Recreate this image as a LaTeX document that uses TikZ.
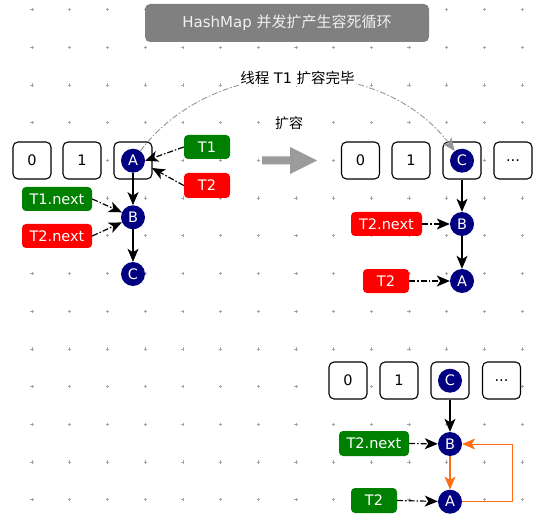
\documentclass[tikz,border=0pt]{standalone}
\usepackage{fontspec}
\setmainfont{DejaVu Sans}
\newfontfamily\cjk{Noto Sans CJK SC}
\usetikzlibrary{arrows.meta}
\definecolor{navyc}{RGB}{0,0,128}
\definecolor{greenc}{RGB}{0,128,0}
\definecolor{redc}{RGB}{255,0,0}
\definecolor{orangec}{RGB}{255,110,20}
\definecolor{titlegray}{RGB}{128,128,128}
\definecolor{dotgray}{RGB}{165,165,165}
\definecolor{arcgray}{RGB}{150,150,150}
\definecolor{bigarrow}{RGB}{155,155,155}
\begin{document}
\begin{tikzpicture}[x=1pt,y=-1pt,
  font=\fontsize{14.5}{17}\selectfont,
  cell/.style={draw=black, line width=1.1pt, fill=white, rounded corners=5pt,
    minimum width=38pt, minimum height=37pt, inner sep=0pt},
  ball/.style={circle, fill=navyc, text=white, minimum size=24pt, inner sep=0pt},
  tag/.style={rounded corners=4pt, text=white, minimum height=24pt, inner sep=0pt},
  gtag/.style={tag, fill=greenc},
  rtag/.style={tag, fill=redc},
  link/.style={-{Stealth[length=13pt,width=11pt,inset=3.5pt]}, line width=1.2pt},
  ptr/.style={link, dash pattern=on 6pt off 2pt on 1.5pt off 2pt},
  arcline/.style={arcgray, line width=0.9pt, dash pattern=on 6pt off 2pt on 1.5pt off 2pt,
    -{Stealth[length=13pt,width=11pt,inset=3.5pt]}},
  dotmark/.style={dotgray, line width=0.6pt}
  ]
\useasboundingbox (0,0) rectangle (551,529);
\fill[white] (0,0) rectangle (551,529);
% grid
\foreach \i in {0,...,13}{
  \foreach \j in {0,...,13}{
    \draw[dotmark] (32+37.7*\i-1.6, 9.6+37.7*\j) -- ++(3.2,0)
                   (32+37.7*\i, 9.6+37.7*\j-1.6) -- ++(0,3.2);
  }
}
% title
\node[fill=titlegray, rounded corners=5pt, text=white!94!black, minimum width=284pt,
  minimum height=38pt, inner sep=0pt, font=\fontsize{15}{18}\selectfont]
  (title) at (287,23) {HashMap {\cjk 并发扩产生容死循环}};

% ---------- left section ----------
\node[cell] (L0) at (32,160.5) {0};
\node[cell] (L1) at (82,160.5) {1};
\node[cell] (L2) at (133,160.5) {};
\node[ball] (A1) at (133,160.7) {A};
\node[ball] (B1) at (133,217.3) {B};
\node[ball] (C1) at (133,274) {C};
\node[gtag, minimum width=46pt] (T1a) at (207,147) {T1};
\node[rtag, minimum width=46pt, minimum height=25pt] (T2a) at (207,185.5) {T2};
\node[gtag, minimum width=70pt] (T1n) at (57,199) {T1.next};
\node[rtag, minimum width=70pt] (T2n) at (57,236) {T2.next};
\coordinate (pA) at (152,168);
\draw[link] (A1) -- (B1);
\draw[link] (B1) -- (C1);
\draw[ptr] (T1a.west) -- (A1.east);
\draw[ptr] (T2a.west) -- (pA);
\draw[ptr] (T1n.east) -- (B1);
\draw[ptr] (T2n.east) -- (B1);

% big arrow
\fill[bigarrow] (262,156.5) -- (290,156.5) -- (290,147) -- (317,160.5)
  -- (290,174) -- (290,164.5) -- (262,164.5) -- cycle;
\node[fill=white, inner sep=1pt, font=\fontsize{14}{16}\selectfont] (kr) at (289,123) {\cjk 扩容};

% ---------- right section ----------
\node[cell] (R0) at (360.5,160.5) {0};
\node[cell] (R1) at (411,160.5) {1};
\node[cell] (R2) at (462,160.5) {};
\node[cell] (R3) at (513,160.5) {...};
\node[ball] (C2) at (462,160.7) {C};
\node[ball] (B2) at (462,224) {B};
\node[ball] (A2) at (462,281) {A};
\node[rtag, minimum width=71pt] (T2nr) at (386.5,224) {T2.next};
\node[rtag, minimum width=46pt] (T2r) at (386,281) {T2};
\draw[link] (R2.south) -- (B2);
\draw[link] (B2) -- (A2);
\draw[ptr] (T2nr.east) -- (B2);
\draw[ptr] (T2r.east) -- (A2);

% arc
\draw[arcline] (A1) to[out=53,in=127]
  node[midway, fill=white, inner sep=1.5pt, text=black, font=\fontsize{14.5}{17}\selectfont] (lbl)
  {{\cjk 线程} T1 {\cjk 扩容完毕}} (C2);

% ---------- bottom section ----------
\node[cell] (D0) at (348,380.5) {0};
\node[cell] (D1) at (399,380.5) {1};
\node[cell] (D2) at (450,380.5) {};
\node[cell] (D3) at (501.5,380.5) {...};
\node[ball] (C3) at (450,380.7) {C};
\node[ball] (B3) at (450,444) {B};
\node[ball] (A3) at (450,501.7) {A};
\node[gtag, minimum width=70pt, minimum height=25pt] (T2ng) at (374,443.5) {T2.next};
\node[gtag, minimum width=46pt, minimum height=25pt] (T2g) at (374,500.5) {T2};
\draw[link] (D2.south) -- (B3);
\draw[link, orangec] (B3) -- (A3);
\draw[link, orangec, line width=1pt] (A3.east) -- ++(50,0) |- (B3.east);
\draw[ptr] (T2ng.east) -- (B3);
\draw[ptr] (T2g.east) -- (A3);
\end{tikzpicture}
\end{document}
